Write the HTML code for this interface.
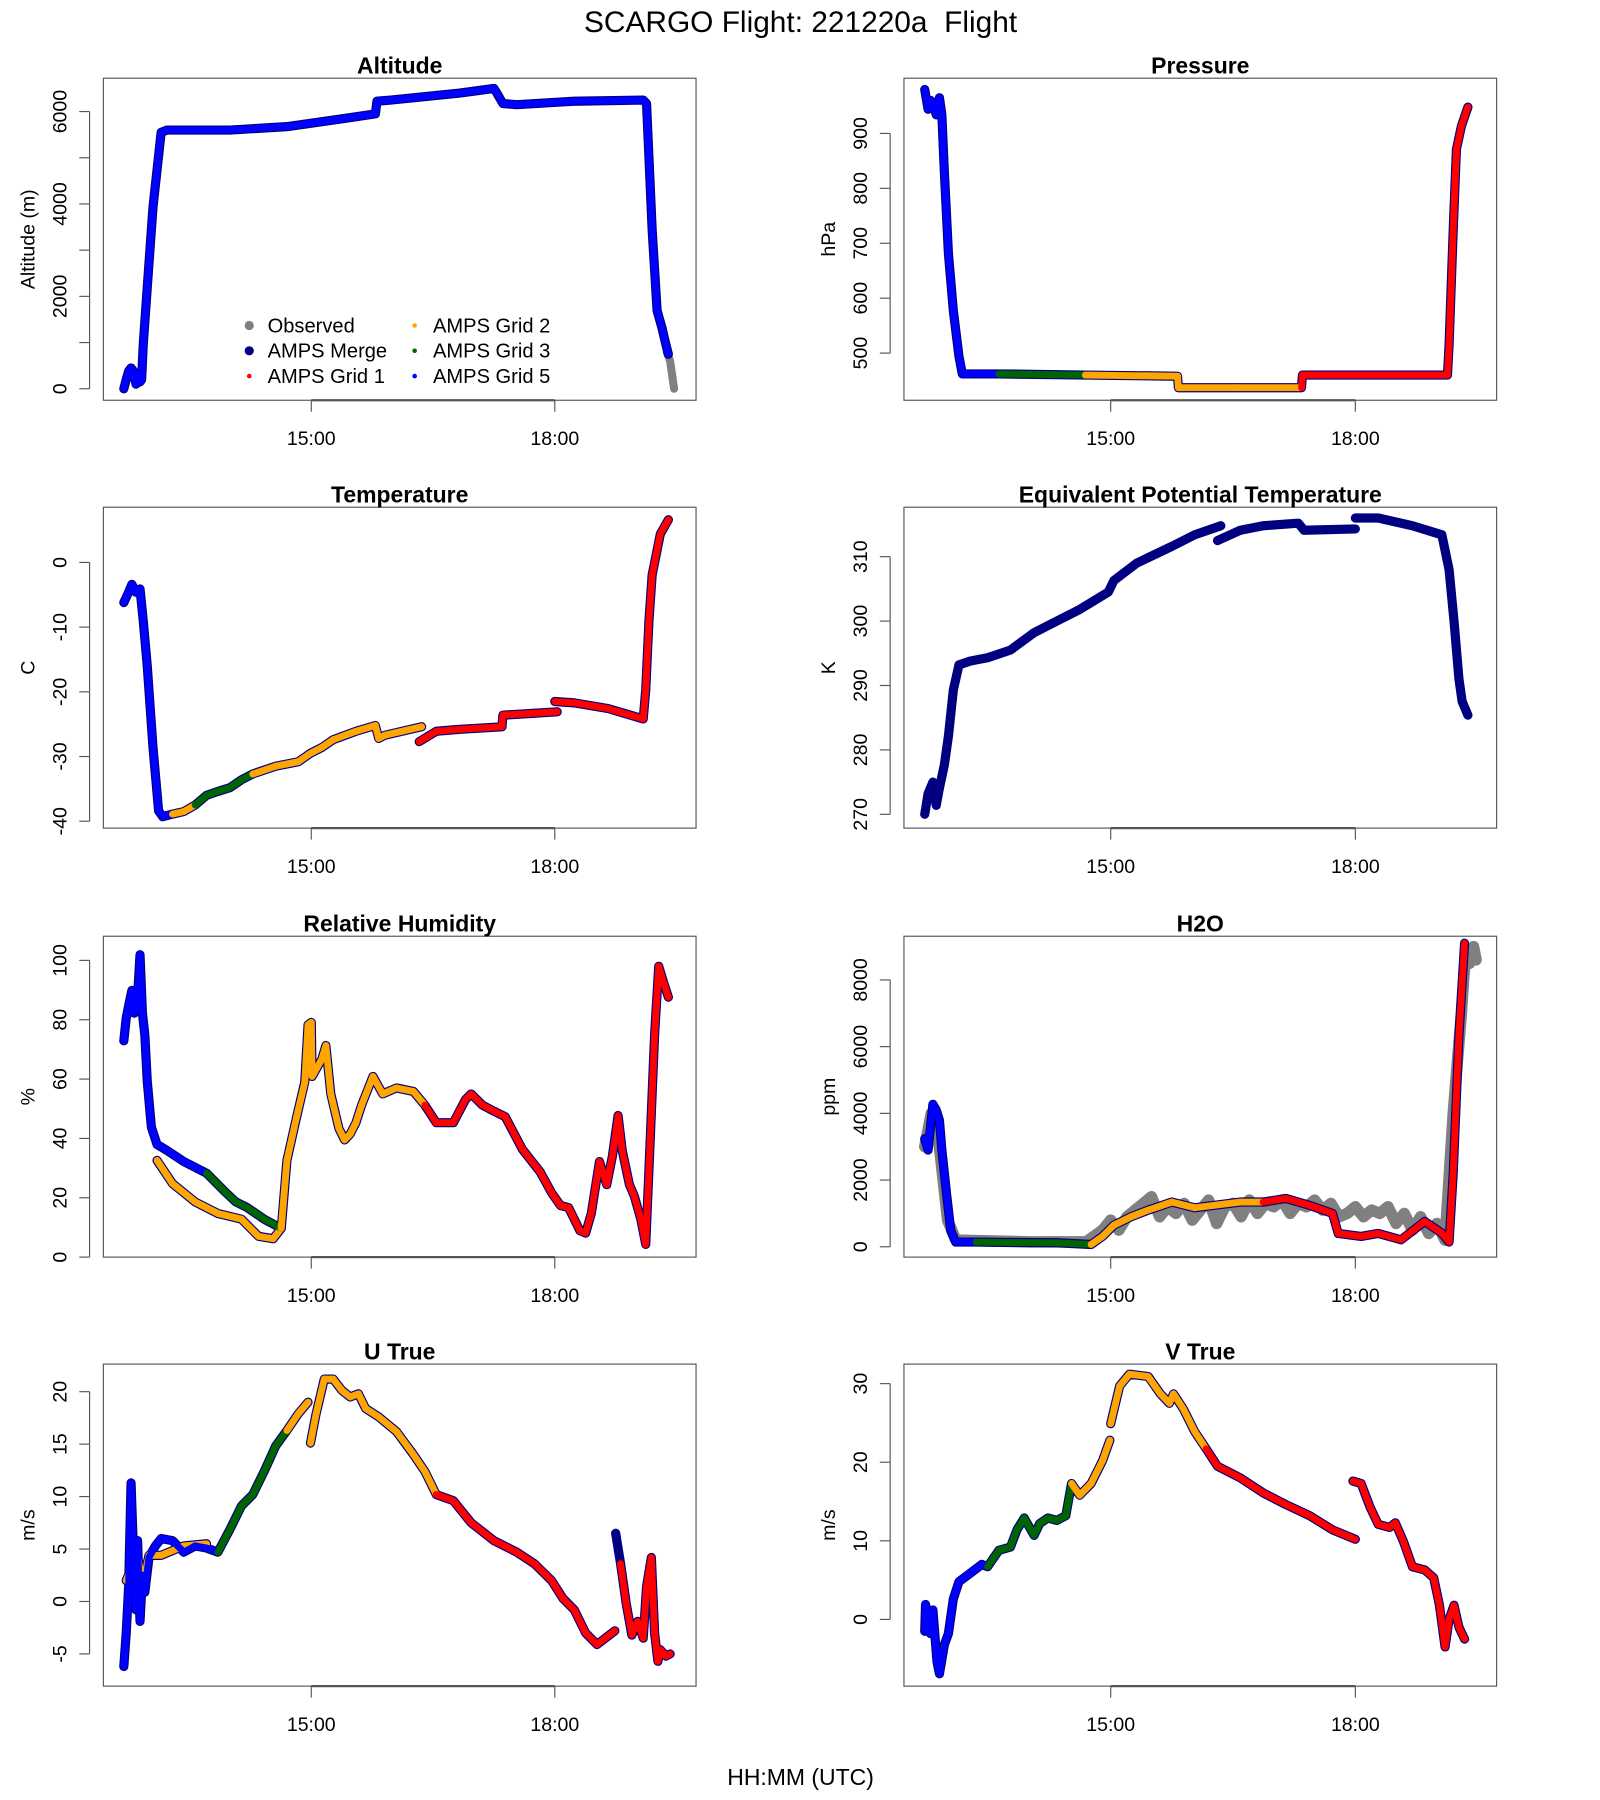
<!DOCTYPE html>
<html><head><meta charset="utf-8">
<style>
html,body{margin:0;padding:0;background:#fff;}
svg{display:block;font-family:"Liberation Sans",Arial,sans-serif;}
</style></head>
<body>
<svg id="fig" xmlns="http://www.w3.org/2000/svg" width="1600" height="1800" viewBox="0 0 1393 1565" preserveAspectRatio="none">
<rect x="0" y="0" width="1393" height="1565" fill="#fff"/>
<text x="697" y="28" font-size="26" text-anchor="middle">SCARGO Flight: 221220a&#160; Flight</text>
<text x="697" y="1552" font-size="20" text-anchor="middle">HH:MM (UTC)</text>
<g id="plots"></g>
</svg>
<script>
// ---- data (time in decimal hours UTC) ----
const altT=[12.69,12.72,12.75,12.78,12.81,12.84,12.86,12.89,12.91,12.93,12.98,13.05,13.15,13.22,14.0,14.7,15.41,15.79,15.81,15.98,16.83,17.25,17.28,17.36,17.53,18.24,19.09,19.13,19.2,19.26,19.32,19.37,19.40];
const altV=[0,200,380,450,380,100,300,150,200,950,2190,3930,5550,5600,5600,5675,5850,5950,6225,6250,6400,6500,6420,6175,6150,6225,6250,6175,3430,1690,1320,950,750];
const altC="bbbbbbbbbbbbbbbbbbbbbbbbbbbbbbbbb";
const altObsT=[19.38,19.42,19.47];
const altObsV=[800,600,0];

const presT=[12.72,12.76,12.79,12.82,12.86,12.90,12.93,12.96,13.01,13.07,13.14,13.18,13.63,14.69,15.82,15.83,16.52,17.34,17.35,19.13,19.15,19.20,19.24,19.30,19.38];
const presV=[980,944,960,955,934,965,934,829,682,577,494,462,462,460,458,437,437,437,460,460,515,724,871,913,948];
const presC="bbbbbbbbbbbbbgoooorrrrrrr";

const tempT=[12.69,12.75,12.79,12.84,12.89,12.93,12.98,13.05,13.12,13.17,13.29,13.43,13.57,13.71,13.85,14.0,14.14,14.28,14.56,14.84,14.99,15.13,15.27,15.55,15.79,15.83,15.91,16.36,null,16.33,16.54,16.83,17.35,17.36,18.03,null,18.0,18.24,18.66,19.09,19.12,19.16,19.2,19.3,19.40];
const tempV=[-6.2,-4.6,-3.4,-4.6,-4.1,-9,-16,-28.6,-38.4,-39.3,-38.9,-38.5,-37.5,-36,-35.4,-34.8,-33.6,-32.7,-31.5,-30.8,-29.5,-28.6,-27.4,-26.1,-25.2,-27.2,-26.7,-25.4,null,-27.7,-26.1,-25.8,-25.4,-23.6,-23.1,null,-21.5,-21.7,-22.6,-24.2,-19.7,-9,-1.9,4.4,6.6];
const tempC="bbbbbbbbbbboogggggoooooooooo-orrrrr-rrrrrrrrr";

const theT=[12.72,12.76,12.82,12.86,12.90,12.96,13.01,13.07,13.14,13.28,13.49,13.77,14.06,14.34,14.62,14.97,15.04,15.32,15.75,16.03,16.35,null,16.31,16.59,16.87,17.30,17.37,18.0,null,18.0,18.28,18.70,19.06,19.15,19.21,19.27,19.31,19.38];
const theV=[270,273.2,275,271.4,274.1,277.7,282.1,289.3,293.2,293.8,294.3,295.5,298.2,300,301.8,304.5,306.3,309,311.6,313.4,314.8,null,312.5,314.1,314.8,315.2,314.1,314.3,null,316,316,314.8,313.4,308,300,291,287.5,285.4];

const rhT=[13.10,13.29,13.57,13.85,14.14,14.35,14.53,14.63,null,12.69,12.72,12.76,12.79,12.82,12.86,12.89,12.92,12.95,12.98,13.03,13.10,13.22,13.43,13.71,13.92,14.07,14.21,14.42,14.63,14.70,14.82,14.92,14.96,15.0,15.01,15.13,15.18,15.24,15.34,15.41,15.48,15.55,15.62,15.76,15.88,16.05,16.26,16.40,16.54,16.75,16.90,16.97,17.11,17.25,17.39,17.60,17.82,17.96,18.07,18.17,18.31,18.38,18.45,18.55,18.64,18.71,18.78,18.83,18.92,18.98,19.06,19.12,19.17,19.23,19.28,19.34,19.40];
const rhV=[32.6,24.8,18.6,14.7,12.8,7,6.2,9.7,null,72.9,80.6,86,89.9,82.2,88,101.9,82.2,74.8,59.3,43.8,38,36,32.2,28.3,22.5,18.6,16.7,12.8,9.7,32.6,47.3,58.9,78.3,79.1,60.9,66.7,71.3,55,43.4,39.5,41.5,45.3,51.2,60.9,55,57,55.8,51.2,45.3,45.3,53.1,55,51.2,49.2,47.3,36.4,28.7,21.7,17.4,16.7,8.9,8.1,14.7,32.2,24.4,34.1,47.7,36,24.4,20.5,12.8,4.3,36,74.8,98,92.6,87.6];
const rhC="oooooooo-bbbbbbbbbbbbbbbgggggooooooooooooooooooorrrrrrrrrrrrrrrrrrrrrrrrrrrrrr";

const h2oObsT=[12.72,12.8,12.9,13.0,13.1,14.0,14.7,14.9,15.0,15.1,15.2,15.3,15.4,15.5,15.6,15.7,15.8,15.9,16.0,16.1,16.2,16.3,16.4,16.5,16.6,16.7,16.8,16.9,17.0,17.1,17.2,17.3,17.4,17.5,17.6,17.7,17.8,17.9,18.0,18.1,18.2,18.3,18.4,18.5,18.6,18.7,18.8,18.9,19.0,19.1,19.2,19.3,19.35,19.4,19.45,19.48];
const h2oObsV=[3000,4000,3000,800,200,150,150,500,800,500,900,1100,1300,1500,900,1200,1000,1300,800,1100,1400,700,1200,1300,900,1400,1000,1300,1200,1400,1000,1300,1200,1400,1100,1300,900,1000,1200,900,1100,1000,1200,700,1000,500,900,400,700,200,4000,7000,8800,8500,9000,8600];
const h2oT=[12.72,12.76,12.82,12.86,12.90,12.93,12.99,13.04,13.10,13.35,13.63,14.34,14.76,14.90,15.04,15.25,15.46,15.75,16.03,16.59,16.87,17.15,17.44,17.72,17.79,18.07,18.28,18.56,18.85,19.06,19.15,19.20,19.27,19.34];
const h2oV=[3240,2900,4270,4100,3790,2900,1520,480,140,140,130,120,70,310,650,900,1100,1340,1170,1340,1340,1450,1240,1000,400,310,400,210,760,410,140,2200,6340,9100];
const h2oC="bbbbbbbbbbgggoooooooorrrrrrrrrrrrr";

const uT=[12.72,12.79,12.86,12.92,13.0,13.15,13.43,13.71,null,12.69,12.72,12.75,12.78,12.81,12.84,12.86,12.89,12.92,12.95,13.0,13.08,13.15,13.29,13.43,13.57,13.71,13.85,14.0,14.14,14.28,14.42,14.56,14.70,14.84,14.96,null,14.99,15.06,15.16,15.27,15.38,15.48,15.58,15.67,15.83,16.05,16.26,16.40,16.54,16.75,16.97,17.25,17.53,17.75,17.96,18.10,18.24,18.38,18.52,18.74,null,18.75,18.81,18.88,18.95,19.02,19.09,19.13,19.19,19.23,19.27,19.30,19.37,19.42];
const uV=[2,3.3,4.4,1.5,4.4,4.4,5.3,5.5,null,-6.2,-3.0,1.4,11.3,4.7,-0.8,5.8,-1.9,2.5,0.9,4.2,5.3,6,5.8,4.7,5.3,5.1,4.7,6.9,9.1,10.2,12.4,14.8,16.3,17.9,19,null,15.1,17.9,21.2,21.2,20.1,19.5,19.8,18.4,17.6,16.2,14,12.4,10.2,9.6,7.5,5.8,4.7,3.6,2,0.3,-0.8,-3,-4.1,-2.8,null,6.5,3.6,-0.2,-3.2,-1.9,-3.5,1.4,4.2,-3,-5.7,-4.6,-5.2,-5];
const uC="oooooooo-bbbbbbbbbbbbbbbbbbggggggooo-oooooooooooorrrrrrrrrrrrr-rrrrrrrrrrrrr";

const vT=[12.72,12.73,12.79,12.82,12.87,12.90,12.96,13.01,13.07,13.14,13.28,13.42,13.49,13.63,13.77,13.85,13.94,14.06,14.13,14.23,14.34,14.45,14.52,14.62,14.76,14.90,14.99,null,15.0,15.11,15.23,15.46,15.61,15.72,15.77,15.89,16.03,16.17,16.31,16.59,16.87,17.15,17.44,17.72,18.0,null,17.97,18.07,18.18,18.28,18.42,18.49,18.59,18.70,18.85,18.96,19.03,19.10,19.15,19.21,19.27,19.34];
const vV=[-1.5,1.9,-1.8,1.2,-5.4,-6.9,-3.2,-1.8,2.6,4.8,5.9,7,6.7,8.8,9.2,11.4,12.9,10.7,12.2,12.9,12.6,13.2,17.3,15.8,17.3,20.2,22.8,null,24.9,29.7,31.2,30.9,28.7,27.5,28.7,26.8,23.9,21.7,19.5,18,16.1,14.6,13.2,11.4,10.2,null,17.6,17.3,14.3,12.1,11.7,12.3,9.9,6.7,6.3,5.3,1.9,-3.5,0,1.8,-1,-2.5];
const vC="bbbbbbbbbbbbbggggggggggoooo-oooooooooorrrrrrr-rrrrrrrrrrrrrrrr";

const altTicks=[0,1000,2000,3000,4000,5000,6000];
const altLabels=["0","","2000","","4000","","6000"];
const presTicks=[500,600,700,800,900];
const tempTicks=[0,-10,-20,-30,-40];
const theTicks=[270,280,290,300,310];
const rhTicks=[0,20,40,60,80,100];
const h2oTicks=[0,2000,4000,6000,8000];
const uTicks=[-5,0,5,10,15,20];
const vTicks=[0,10,20,30];
const xTickHours=[15,18];
const xTickLabels=["15:00","18:00"];

// ---- rendering ----
const NS="http://www.w3.org/2000/svg";
const COL={b:"#0000FF",n:"#000080",r:"#FF0000",o:"#FFA500",g:"#006400",k:"#808080"};
const root=document.getElementById("plots");
function mk(tag,attrs,parent){const e=document.createElementNS(NS,tag);for(const k in attrs)e.setAttribute(k,attrs[k]);(parent||root).appendChild(e);return e;}

function panel(cfg){
  const g=mk("g",{});
  
  
  const xs=h=>cfg.x15+(h-15)*cfg.xph;
  const ys=v=>cfg.y1+(v-cfg.v1)*(cfg.y2-cfg.y1)/(cfg.v2-cfg.v1);
  const box=mk("rect",{x:cfg.L,y:cfg.T,width:cfg.R-cfg.L,height:cfg.B-cfg.T,fill:"none",stroke:"#555","stroke-width":1},g);
  
  
  const tt=mk("text",{x:(cfg.L+cfg.R)/2,y:cfg.T-4,"font-size":20,"font-weight":"bold","text-anchor":"middle"},g);
  tt.textContent=cfg.title;
  
  
  const ya=mk("g",{},g);
  
  
  const yt=cfg.yticks, ytop=ys(yt[yt.length-1]), ybot=ys(yt[0]);
  mk("line",{x1:cfg.L-12,x2:cfg.L-12,y1:Math.min(ytop,ybot),y2:Math.max(ytop,ybot),stroke:"#555"},ya);
  yt.forEach((v,i)=>{
    const y=ys(v);
    mk("line",{x1:cfg.L-12,x2:cfg.L-21,y1:y,y2:y,stroke:"#555"},ya);
    const lab=cfg.ylabels?cfg.ylabels[i]:String(v);
    if(lab){
      const t=mk("text",{x:cfg.L-32,y:y,"font-size":17,"text-anchor":"middle",transform:`rotate(-90 ${cfg.L-32} ${y})`},ya);
      t.textContent=lab;
      
      
    }
  });
  const yl=mk("text",{x:cfg.L-60,y:(cfg.T+cfg.B)/2,"font-size":17,"text-anchor":"middle",transform:`rotate(-90 ${cfg.L-60} ${(cfg.T+cfg.B)/2})`},g);
  yl.textContent=cfg.ytitle;
  
  
  const xa=mk("g",{},g);
  
  
  mk("line",{x1:xs(xTickHours[0]),x2:xs(xTickHours[xTickHours.length-1]),y1:cfg.B,y2:cfg.B,stroke:"#555","stroke-width":2},xa);
  xTickHours.forEach((h,i)=>{
    const x=xs(h);
    mk("line",{x1:x,x2:x,y1:cfg.B,y2:cfg.B+10,stroke:"#555"},xa);
    const t=mk("text",{x:x,y:cfg.B+39,"font-size":17,"text-anchor":"middle"},xa);
    t.textContent=xTickLabels[i];
    
    
  });
  if(cfg.obsT){
    let d="";cfg.obsT.forEach((h,i)=>{d+=(i?"L":"M")+xs(h).toFixed(1)+","+ys(cfg.obsV[i]).toFixed(1);});
    const p=mk("path",{d:d,fill:"none",stroke:COL.k,"stroke-width":cfg.obsW||7,"stroke-linejoin":"round","stroke-linecap":"round"},g);
    
    
  }
  const T=cfg.t,V=cfg.v,C=cfg.c;
  let d="";let pen=false;
  for(let i=0;i<T.length;i++){
    if(T[i]===null){pen=false;continue;}
    d+=(pen?"L":"M")+xs(T[i]).toFixed(1)+","+ys(V[i]).toFixed(1);pen=true;
  }
  const m=mk("path",{d:d,fill:"none",stroke:COL.n,"stroke-width":8,"stroke-linejoin":"round","stroke-linecap":"round"},g);
  
  
  if(C){
    for(let i=1;i<T.length;i++){
      if(T[i]===null||T[i-1]===null)continue;
      const s=mk("line",{x1:xs(T[i-1]),y1:ys(V[i-1]),x2:xs(T[i]),y2:ys(V[i]),stroke:COL[C[i]],"stroke-width":6,"stroke-linecap":"round"},g);
      
      
    }
  }
}

const LX={L:90,R:606,x15:271,xph:70.67};
const RX={L:787,R:1303,x15:967,xph:71};
panel(Object.assign({name:"altitude",title:"Altitude",ytitle:"Altitude (m)",T:68,B:348,v1:0,y1:338,v2:6000,y2:97,yticks:altTicks,ylabels:altLabels,t:altT,v:altV,c:altC,obsT:altObsT,obsV:altObsV},LX));
panel(Object.assign({name:"pressure",title:"Pressure",ytitle:"hPa",T:68,B:348,v1:500,y1:307,v2:900,y2:116,yticks:presTicks,t:presT,v:presV,c:presC},RX));
panel(Object.assign({name:"temperature",title:"Temperature",ytitle:"C",T:441,B:720,v1:0,y1:489,v2:-40,y2:714,yticks:tempTicks,t:tempT,v:tempV,c:tempC},LX));
panel(Object.assign({name:"theta-e",title:"Equivalent Potential Temperature",ytitle:"K",T:441,B:720,v1:270,y1:708,v2:310,y2:484,yticks:theTicks,t:theT,v:theV,c:null},RX));
panel(Object.assign({name:"relative-humidity",title:"Relative Humidity",ytitle:"%",T:814,B:1093,v1:0,y1:1093,v2:100,y2:835,yticks:rhTicks,t:rhT,v:rhV,c:rhC},LX));
panel(Object.assign({name:"h2o",title:"H2O",ytitle:"ppm",T:814,B:1093,v1:0,y1:1084,v2:8000,y2:852,yticks:h2oTicks,t:h2oT,v:h2oV,c:h2oC,obsT:h2oObsT,obsV:h2oObsV,obsW:10},RX));
panel(Object.assign({name:"u-true",title:"U True",ytitle:"m/s",T:1186,B:1466,v1:-5,y1:1438,v2:20,y2:1210,yticks:uTicks,t:uT,v:uV,c:uC},LX));
panel(Object.assign({name:"v-true",title:"V True",ytitle:"m/s",T:1186,B:1466,v1:0,y1:1408,v2:30,y2:1203,yticks:vTicks,t:vT,v:vV,c:vC},RX));

const legNames=["Observed","AMPS Merge","AMPS Grid 1","AMPS Grid 2","AMPS Grid 3","AMPS Grid 5"];
const legCols=[COL.k,COL.n,COL.r,COL.o,COL.g,COL.b];
const lg=mk("g",{});


legNames.forEach((n,i)=>{
  const col=Math.floor(i/3),row=i%3;
  const x=217+col*144,y=283+row*22;
  const e=mk("g",{},lg);
  
  
  mk("circle",{cx:x,cy:y,r:i<2?4:2,fill:legCols[i]},e);
  const t=mk("text",{x:x+16,y:y+6,"font-size":17.5},e);
  t.textContent=n;
});
</script>
</body></html>
